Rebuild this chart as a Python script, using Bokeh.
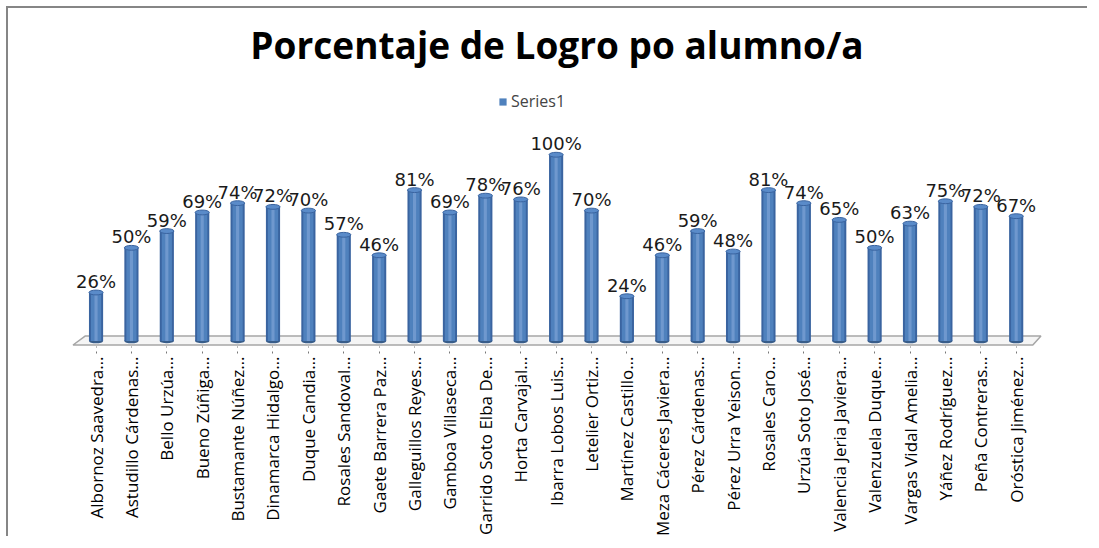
import math
from bokeh.plotting import figure
from bokeh.models import Range1d, FixedTicker, Legend, LegendItem, ColumnDataSource
from bokeh.core.properties import value
from bokeh.embed import file_html
from bokeh.resources import INLINE

title_text = "Porcentaje de Logro po alumno/a"
series_name = "Series1"
names = [
    "Albornoz Saavedra…", "Astudillo Cárdenas…", "Bello Urzúa…", "Bueno Zúñiga…",
    "Bustamante Núñez…", "Dinamarca Hidalgo…", "Duque Candia…", "Rosales Sandoval…",
    "Gaete Barrera Paz…", "Galleguillos Reyes…", "Gamboa Villaseca…", "Garrido Soto Elba De…",
    "Horta Carvajal…", "Ibarra Lobos Luis…", "Letelier Ortiz…", "Martínez Castillo…",
    "Meza Cáceres Javiera…", "Pérez Cárdenas…", "Pérez Urra Yeison…", "Rosales Caro…",
    "Urzúa Soto José…", "Valencia Jeria Javiera…", "Valenzuela Duque…", "Vargas Vidal Amelia…",
    "Yáñez Rodríguez…", "Peña Contreras…", "Oróstica Jiménez…",
]
values = [26, 50, 59, 69, 74, 72, 70, 57, 46, 81, 69, 78, 76, 100, 70, 24,
          46, 59, 48, 81, 74, 65, 50, 63, 75, 72, 67]

n = len(values)
xs = list(range(n))
frac = [v / 100 for v in values]
labels = [f"{v}%" for v in values]
src = ColumnDataSource(dict(x=xs, top=frac, lab=labels, zero=[0] * n))

p = figure(width=1081, height=530, output_backend="svg", toolbar_location=None,
           x_range=Range1d(-0.75, n - 1 + 0.8), y_range=Range1d(-0.03, 1.431),
           min_border_left=61, min_border_right=45, min_border_top=66, min_border_bottom=192,
           styles={"border-left": "2px solid #868686", "border-top": "2px solid #868686",
                   "margin-left": "6px", "margin-top": "6px"})
p.outline_line_color = None
p.xgrid.visible = False
p.ygrid.visible = False
p.yaxis.visible = False

# title
p.title.text = title_text
p.title.text_font = "Open Sans"
p.title.text_font_style = "bold"
p.title.text_font_size = "37px"
p.title.align = "center"
p.title.text_color = "#000000"
p.title.standoff = 10

# floor (3D base)
p.patch(x=[-0.65, n - 1 + 0.47, n - 1 + 0.7, -0.31], y=[-0.022, -0.022, 0.026, 0.026],
        fill_color="#F5F5F5", line_color="#A6A6A6", line_width=1.5)

# cylinders
bw = 0.4
p.ellipse(x="x", y="zero", width=bw, height=0.026, source=src,
          fill_color="#385D8A", line_color=None)
p.vbar(x="x", top="top", bottom=0, width=bw, source=src,
       fill_color="#3A64A0", line_color=None)
p.vbar(x="x", top="top", bottom=0, width=bw * 0.72, source=src,
       fill_color="#4F81BD", line_color=None)
p.vbar(x="x", top="top", bottom=0, width=bw * 0.22, source=src,
       fill_color="#6F98CE", line_color=None)
p.ellipse(x="x", y="top", width=bw, height=0.026, source=src,
          fill_color="#5A8BC9", line_color="#3A64A0", line_width=1)

# data labels
p.text(x="x", y="top", text="lab", source=src, text_align="center",
       text_baseline="alphabetic", y_offset=-11, text_font=value("DejaVu Sans"),
       text_font_size="18px", text_color="#1a1a1a")

# legend swatch: a box whose coordinates are NaN, so it is not plotted
nan = float("nan")
swatch = p.quad(left=[nan], right=[nan], top=[nan], bottom=[nan],
                fill_color="#4F81BD", line_color=None)
legend = Legend(items=[LegendItem(label=series_name, renderers=[swatch])],
                location=(429, 234), border_line_color=None, background_fill_alpha=0,
                label_text_font="Open Sans", label_text_font_size="16px",
                glyph_width=9, glyph_height=9, margin=0, padding=2,
                label_standoff=4)
p.add_layout(legend)

# x axis
ax = p.xaxis[0]
ax.ticker = FixedTicker(ticks=xs)
ax.major_label_overrides = {i: nm for i, nm in enumerate(names)}
ax.major_label_orientation = math.pi / 2
ax.major_label_text_font = "Open Sans"
ax.major_label_text_font_size = "17px"
ax.major_label_text_color = "#000000"
ax.major_label_standoff = 3
ax.axis_line_color = None
ax.major_tick_line_color = "#777777"
ax.major_tick_line_dash = "dotted"
ax.major_tick_out = 7
ax.major_tick_in = 0
ax.minor_tick_line_color = None

open("out.html", "w").write(file_html(p, INLINE))
